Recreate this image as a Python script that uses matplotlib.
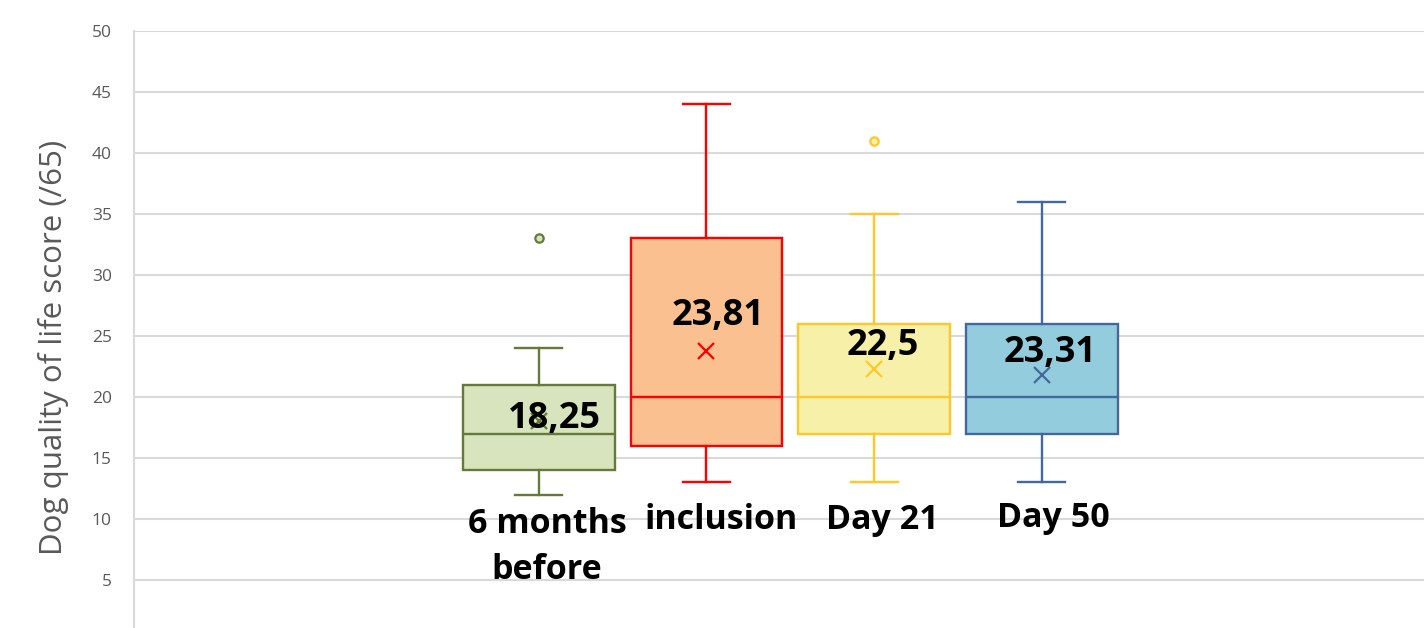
import matplotlib
matplotlib.use("Agg")
import matplotlib.pyplot as plt

# Data
groups = ["6 months\nbefore", "inclusion", "Day 21", "Day 50"]
q1 = [14, 16, 17, 17]
median = [17, 20, 20, 20]
q3 = [21, 33, 26, 26]
whisker_low = [12, 13, 13, 13]
whisker_high = [24, 44, 35, 36]
outliers = [[33], [], [41], []]
mean_marker = [18.0, 23.8, 22.3, 21.8]
mean_labels = ["18,25", "23,81", "22,5", "23,31"]

fill_colors = ["#D7E4BD", "#FAC090", "#F7F0A8", "#93CDDD"]
edge_colors = ["#657A3A", "#FF0000", "#FFC72C", "#44689E"]

plt.rcParams['font.family'] = ['Open Sans', 'DejaVu Sans']

fig = plt.figure(figsize=(14.24, 6.28), dpi=100)
ax = fig.add_axes([134 / 1424, 0.0, 1 - 134 / 1424, 1 - 31 / 628])

positions = [1, 2, 3, 4]
for i, pos in enumerate(positions):
    stats = [{
        "med": median[i], "q1": q1[i], "q3": q3[i],
        "whislo": whisker_low[i], "whishi": whisker_high[i],
        "fliers": outliers[i], "mean": mean_marker[i],
    }]
    ec = edge_colors[i]
    ax.bxp(stats, positions=[pos], widths=0.905, patch_artist=True,
           showmeans=True, showfliers=True, capwidths=0.28,
           boxprops=dict(facecolor=fill_colors[i], edgecolor=ec, linewidth=1.7),
           medianprops=dict(color=ec, linewidth=1.7),
           whiskerprops=dict(color=ec, linewidth=1.7),
           capprops=dict(color=ec, linewidth=1.7),
           meanprops=dict(marker="x", markeredgecolor=ec, markersize=11,
                          markeredgewidth=1.6),
           flierprops=dict(marker="o", markerfacecolor=fill_colors[i],
                           markeredgecolor=ec, markersize=6, markeredgewidth=1.6),
           zorder=3)

# mean value labels
label_offsets = [(0.09, 18.2), (0.07, 26.6), (0.05, 24.2), (0.05, 23.6)]
for i, pos in enumerate(positions):
    dx, y = label_offsets[i]
    ax.text(pos + dx, y, mean_labels[i], ha="center", va="center",
            fontsize=26, fontweight="bold", color="black", zorder=5)

# group labels written inside the plot
group_offsets = [(0.05, 10.95), (0.09, 9.9), (0.05, 9.9), (0.07, 10.1)]
for i, pos in enumerate(positions):
    dx, y = group_offsets[i]
    va = "top" if "\n" in groups[i] else "center"
    ax.text(pos + dx, y, groups[i], ha="center", va=va, fontsize=24.5,
            fontweight="bold", color="black", linespacing=1.45, zorder=5)

ax.set_xlim(-1.415, 6.28)
ax.set_ylim(50 - 597 / 12.2, 50)
ax.set_yticks(range(5, 51, 5))
ax.set_xticks([])
ax.yaxis.grid(True, color="#D9D9D9", linewidth=1.5)
ax.set_axisbelow(True)
for side in ["top", "right", "bottom"]:
    ax.spines[side].set_visible(False)
ax.spines["left"].set_color("#D9D9D9")
ax.spines["left"].set_linewidth(1.5)
ax.tick_params(axis="y", length=0, pad=16, labelsize=12.5, labelcolor="#595959")
ax.set_ylabel("Dog quality of life score (/65)", fontsize=22.5, color="#595959")
ax.yaxis.set_label_coords(-0.05, 0.47)

fig.savefig("out.png", dpi=100)
